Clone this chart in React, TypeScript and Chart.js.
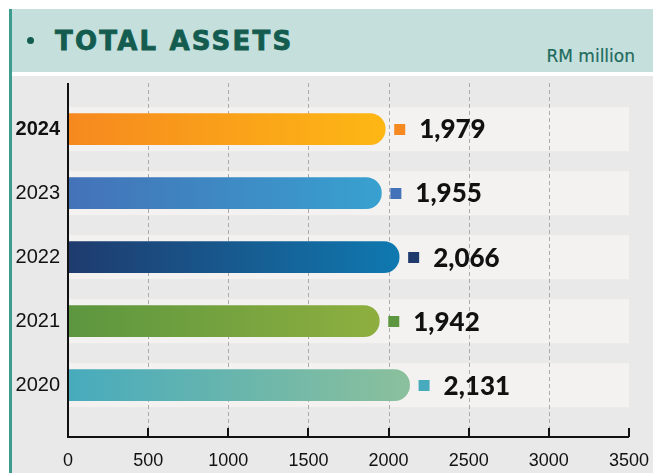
import React, { useEffect, useRef } from "react";
import { Chart, registerables } from "chart.js";

Chart.register(...registerables);

const years = ["2024", "2023", "2022", "2021", "2020"];
const values = [1979, 1955, 2066, 1942, 2131];
const startColors = ["#f6891f", "#4472b8", "#1f3b6e", "#5c963f", "#47abbd"];
const endColors = ["#fdb714", "#38a1d0", "#0f79b0", "#8eaf3f", "#8bc09c"];
const xTickValues = [0, 500, 1000, 1500, 2000, 2500, 3000, 3500];
const valueLabels = ["1,979", "1,955", "2,066", "1,942", "2,131"];

const NARROW = "'Liberation Sans Narrow', 'Liberation Sans', Arial, sans-serif";

export default function App() {
  const canvasRef = useRef<HTMLCanvasElement | null>(null);

  useEffect(() => {
    const canvas = canvasRef.current;
    if (!canvas) return;

    const decor = {
      id: "decor",
      beforeDraw(chart: any) {
        const { ctx, chartArea } = chart;
        const xs = chart.scales.x;
        const ys = chart.scales.y;
        ctx.save();
        ctx.fillStyle = "#f3f2f1";
        years.forEach((_, i) => {
          const cy = ys.getPixelForValue(4 - i);
          ctx.fillRect(chartArea.left, cy - 22, chartArea.right - chartArea.left, 44);
        });
        ctx.strokeStyle = "#ababab";
        ctx.lineWidth = 1;
        ctx.setLineDash([4, 3]);
        xTickValues.forEach((v) => {
          if (v === 0 || v === 3500) return;
          const x = Math.round(xs.getPixelForValue(v)) + 0.5;
          ctx.beginPath();
          ctx.moveTo(x, chartArea.top);
          ctx.lineTo(x, chartArea.bottom);
          ctx.stroke();
        });
        ctx.restore();
      },
      afterDatasetsDraw(chart: any) {
        const { ctx, chartArea } = chart;
        const xs = chart.scales.x;
        const ys = chart.scales.y;
        ctx.save();
        ctx.strokeStyle = "#111";
        ctx.lineWidth = 2;
        ctx.setLineDash([]);
        ctx.beginPath();
        ctx.moveTo(chartArea.left, chartArea.top);
        ctx.lineTo(chartArea.left, chartArea.bottom);
        ctx.lineTo(chartArea.right, chartArea.bottom);
        ctx.stroke();
        xTickValues.forEach((v) => {
          if (v === 0) return;
          const x = Math.round(xs.getPixelForValue(v));
          ctx.beginPath();
          ctx.moveTo(x, chartArea.bottom);
          ctx.lineTo(x, chartArea.bottom - 9);
          ctx.stroke();
        });
        years.forEach((_, i) => {
          const cy = ys.getPixelForValue(4 - i);
          const xEnd = xs.getPixelForValue(values[i]);
          const sq = 11;
          const sx = xEnd + 9;
          ctx.fillStyle = startColors[i];
          ctx.fillRect(sx, Math.round(cy - sq / 2), sq, sq);
          ctx.fillStyle = "#111";
          ctx.font = "900 26px Lato, 'DejaVu Sans', sans-serif";
          ctx.textBaseline = "middle";
          ctx.textAlign = "left";
          ctx.fillText(valueLabels[i], sx + sq + 14, cy + 1);
        });
        ctx.restore();
      },
    };

    const chart = new Chart(canvas, {
      type: "bar",
      data: {
        datasets: [
          {
            data: values.map((v, i) => ({ x: v, y: 4 - i })),
            barThickness: 31,
            borderRadius: 16,
            borderSkipped: "start",
            backgroundColor: (c: any) => {
              const ch = c.chart;
              const area = ch.chartArea;
              const i = c.dataIndex;
              if (!area || i === undefined || !ch.scales.x) return startColors[i ?? 0];
              const xEnd = ch.scales.x.getPixelForValue(values[i]);
              const g = ch.ctx.createLinearGradient(area.left, 0, xEnd, 0);
              g.addColorStop(0, startColors[i]);
              g.addColorStop(1, endColors[i]);
              return g;
            },
          } as any,
        ],
      },
      options: {
        indexAxis: "y",
        animation: false,
        responsive: false,
        events: [],
        layout: { padding: { top: 7, right: 24, left: 0, bottom: 0 } },
        plugins: { legend: { display: false }, tooltip: { enabled: false } },
        scales: {
          x: {
            type: "linear",
            min: 0,
            max: 3500,
            offset: false,
            grid: { display: false, drawTicks: false },
            border: { display: false },
            afterBuildTicks: (s: any) => {
              s.ticks = xTickValues.map((v) => ({ value: v }));
            },
            afterFit: (s: any) => {
              s.height = 36;
              s.paddingLeft = 0;
              s.paddingRight = 0;
            },
            ticks: {
              color: "#111",
              padding: 13,
              maxRotation: 0,
              autoSkip: false,
              font: { family: NARROW, size: 18 },
              callback: (v: any) => String(v),
            },
          },
          y: {
            type: "linear",
            min: -0.81,
            max: 4.72,
            offset: false,
            grid: { display: false, offset: false, drawTicks: false },
            border: { display: false },
            afterBuildTicks: (s: any) => {
              s.ticks = [0, 1, 2, 3, 4].map((v) => ({ value: v }));
            },
            afterFit: (s: any) => {
              s.width = 56;
              s.paddingTop = 0;
              s.paddingBottom = 0;
            },
            ticks: {
              color: "#111",
              padding: 8,
              autoSkip: false,
              font: (c: any) => ({
                family: NARROW,
                size: 20,
                weight: c.tick && c.tick.value === 4 ? "bold" : "normal",
              }),
              callback: (v: any) => years[4 - Number(v)],
            },
          },
        },
      },
      plugins: [decor],
    });

    return () => chart.destroy();
  }, []);

  return (
    <div
      style={{
        position: "absolute",
        left: 0,
        top: 0,
        width: 653,
        height: 473,
        background: "#ffffff",
        overflow: "hidden",
      }}
    >
      <div style={{ position: "absolute", left: 9, top: 9, width: 3, height: 464, background: "#3e9c8e" }} />
      <div style={{ position: "absolute", left: 12, top: 9, width: 641, height: 63, background: "#c5e0dc" }} />
      <div style={{ position: "absolute", left: 12, top: 76, width: 641, height: 397, background: "#e9e9e9" }} />
      <div
        style={{
          position: "absolute",
          left: 27,
          top: 37,
          width: 7,
          height: 7,
          borderRadius: "50%",
          background: "#135c4f",
        }}
      />
      <div
        style={{
          position: "absolute",
          left: 55,
          top: 28,
          fontFamily: "'DejaVu Sans', sans-serif",
          fontWeight: 700,
          fontSize: 26,
          lineHeight: "26px",
          letterSpacing: "2.2px",
          color: "#135c4f",
          WebkitTextStroke: "0.8px #135c4f",
          whiteSpace: "nowrap",
        }}
      >
        TOTAL ASSETS
      </div>
      <div
        style={{
          position: "absolute",
          right: 18,
          top: 47,
          fontFamily: "'DejaVu Sans', sans-serif",
          fontSize: 17,
          lineHeight: "18px",
          color: "#1d6a5c",
          WebkitTextStroke: "0.2px #1d6a5c",
          whiteSpace: "nowrap",
        }}
      >
        RM million
      </div>
      <canvas
        ref={canvasRef}
        width={641}
        height={397}
        style={{ position: "absolute", left: 12, top: 76, width: 641, height: 397 }}
      />
    </div>
  );
}
